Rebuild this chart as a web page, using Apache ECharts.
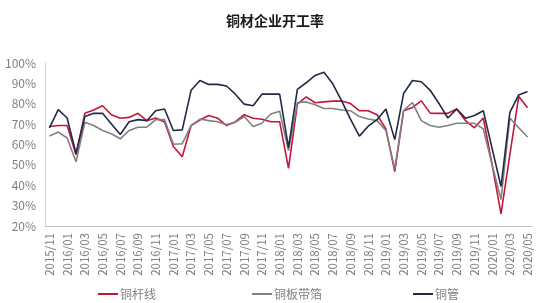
<!DOCTYPE html>
<html><head><meta charset="utf-8">
<script src="https://cdn.jsdelivr.net/npm/echarts@6/dist/echarts.min.js"></script>
<style>html,body{margin:0;padding:0;background:#fff}#c{width:550px;height:303px}</style>
</head><body><div id="c"></div>
<script>
const categories = ['2015/11','2015/12',
'2016/01','2016/02','2016/03','2016/04','2016/05','2016/06','2016/07','2016/08','2016/09','2016/10','2016/11','2016/12',
'2017/01','2017/02','2017/03','2017/04','2017/05','2017/06','2017/07','2017/08','2017/09','2017/10','2017/11','2017/12',
'2018/01','2018/02','2018/03','2018/04','2018/05','2018/06','2018/07','2018/08','2018/09','2018/10','2018/11','2018/12',
'2019/01','2019/02','2019/03','2019/04','2019/05','2019/06','2019/07','2019/08','2019/09','2019/10','2019/11','2019/12',
'2020/01','2020/02','2020/03','2020/04','2020/05'];
const rodWire = [68.8,69.3,69.3,55,75.3,76.9,79,74.6,72.9,73.3,75.3,71.7,73,71,59,54,69.3,72,74.2,72.9,69.3,71.2,74.6,72.9,72.4,71.2,71.2,48.3,79.8,83.4,80.5,80.9,81.3,81.3,80.1,76.6,76.6,74.6,67.7,46.7,76.6,78.2,81.4,75.4,75.3,75.3,77.4,71.7,68.2,73,50,26,55,83.5,78];
const plateStrip = [64.1,66.1,63.2,51.5,70.9,69.3,66.9,65.3,62.8,66.9,68.5,68.5,72.2,72.2,60.1,60.4,69.3,72.5,71.7,71.2,69.8,70.9,73.7,68.8,70.4,75,76.3,57,80.6,80.9,79.5,77.7,77.7,76.9,76.6,73.7,72.5,71.7,66.9,48,76.6,80.6,71.7,69.3,68.5,69.3,70.4,70.4,70.4,67.7,50,33,73,68.2,63.7];
const tube = [68.2,77.1,73,55.6,73.7,75.3,75.3,70.1,64.9,71.2,72.2,71.7,76.6,77.4,66.9,67.2,86.6,91.4,89.5,89.5,88.7,84.7,79.8,79,84.7,84.7,84.7,58.5,87.1,90.3,93.9,95.5,89.8,81.4,72.5,64.1,69,72.2,77.4,62.4,85,91.4,90.8,86.6,80.1,73,77.4,72.9,74.2,76.6,58,39.4,75.8,84.3,86];
const seriesNames = ['铜杆线','铜板带箔','铜管'];
const yTicks = {min:20, max:100, interval:10};

const font = '"Noto Sans CJK SC","Noto Sans",sans-serif';
const chart = echarts.init(document.getElementById('c'), null, {renderer:'canvas'});
const mk = (name, data, color) => ({
  name, type:'line', data, symbol:'none', smooth:false,
  lineStyle:{color, width:1.6}, itemStyle:{color}
});
const legendLefts = [93, 247, 408];
const legends = seriesNames.map((n, k) => ({
  data:[n], top:283, left:legendLefts[k], itemWidth:20, itemHeight:2, icon:'rect',
  textStyle:{fontSize:12, color:'#7f7f7f', fontFamily:font, padding:[0,0,0,-3]}
}));
chart.setOption({
  animation:false,
  textStyle:{fontFamily:font},
  title:{text:'铜材企业开工率', left:'center', top:9,
    textStyle:{fontSize:14, fontWeight:'bold', color:'#1a1a1a', fontFamily:font}},
  legend:legends,
  grid:{left:45, right:18, top:63, bottom:77, containLabel:false},
  xAxis:{type:'category', data:categories, boundaryGap:true,
    axisLine:{lineStyle:{color:'#bfbfbf'}}, axisTick:{show:false},
    axisLabel:{interval:1, rotate:90, margin:7, fontSize:11.5, color:'#808080', fontFamily:font}},
  yAxis:{type:'value', min:yTicks.min, max:yTicks.max, interval:yTicks.interval,
    axisLine:{show:true, lineStyle:{color:'#d0d0d0'}}, axisTick:{show:false}, splitLine:{show:false},
    axisLabel:{formatter:'{value}%', fontSize:12, color:'#808080', margin:9, fontFamily:font}},
  series:[mk(seriesNames[0], rodWire, '#C4163A'), mk(seriesNames[1], plateStrip, '#808080'), mk(seriesNames[2], tube, '#1F2A48')]
});
</script></body></html>
